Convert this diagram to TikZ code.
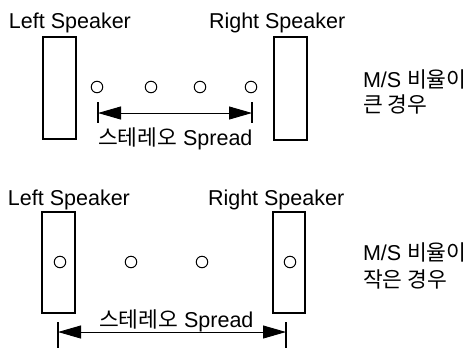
\documentclass[tikz,border=0pt]{standalone}
\usepackage{fontspec}
\setmainfont{Liberation Sans}
\newfontfamily\cjk{Noto Sans CJK KR}
\usetikzlibrary{arrows.meta}
\begin{document}
\begin{tikzpicture}[x=1pt,y=-1pt,
  every node/.style={inner sep=0pt,outer sep=0pt,font=\fontsize{21.5}{26}\selectfont},
  lbl/.style={anchor=base west},
  spk/.style={draw,line width=1.2pt},
  src/.style={draw,circle,line width=1pt,minimum size=11.5pt},
  tick/.style={line width=1.1pt},
  spread/.style={line width=0.9pt,{Triangle[length=23pt,width=13pt]}-{Triangle[length=23pt,width=13pt]}}]
\useasboundingbox (0,0) rectangle (473,349);

% ---- upper panel: wide M/S ratio
\node[lbl] (tl) at (9,28) {Left Speaker};
\node[lbl] (tr) at (209,28) {Right Speaker};
\draw[spk] (43,37) rectangle (76,139);
\draw[spk] (274,37) rectangle (307,140);
\node[src] (ta) at (97,87) {};
\node[src] (tb) at (151,87) {};
\node[src] (tc) at (200,87) {};
\node[src] (td) at (251,87) {};
\coordinate (tla) at (98,102);
\coordinate (tlb) at (98,123);
\coordinate (tra) at (252,102);
\coordinate (trb) at (252,123);
\coordinate (tle) at (98,113);
\coordinate (tre) at (252,113);
\draw[tick] (tla) -- (tlb);
\draw[tick] (tra) -- (trb);
\draw[spread] (tle) -- (tre);
\node[lbl] (ts) at (98,145) {{\cjk 스테레오} Spread};
\node[lbl] (tm1) at (363,87) {M/S {\cjk 비율이}};
\node[lbl] (tm2) at (363,112) {\cjk 큰 경우};

% ---- lower panel: narrow M/S ratio
\node[lbl] (bl) at (8,205) {Left Speaker};
\node[lbl] (br) at (208,205) {Right Speaker};
\draw[spk] (42,212) rectangle (75,313);
\draw[spk] (273,212) rectangle (305,313);
\node[src] (ba) at (60,262) {};
\node[src] (bb) at (131,262) {};
\node[src] (bc) at (202,262) {};
\node[src] (bd) at (290,262) {};
\coordinate (bla) at (58,322);
\coordinate (blb) at (58,348);
\coordinate (bra) at (286,322);
\coordinate (brb) at (286,348);
\coordinate (ble) at (58,332);
\coordinate (bre) at (286,332);
\draw[tick] (bla) -- (blb);
\draw[tick] (bra) -- (brb);
\draw[spread] (ble) -- (bre);
\node[lbl] (bs) at (99,327) {{\cjk 스테레오} Spread};
\node[lbl] (bm1) at (363,260) {M/S {\cjk 비율이}};
\node[lbl] (bm2) at (363,287) {\cjk 작은 경우};
\end{tikzpicture}
\end{document}
